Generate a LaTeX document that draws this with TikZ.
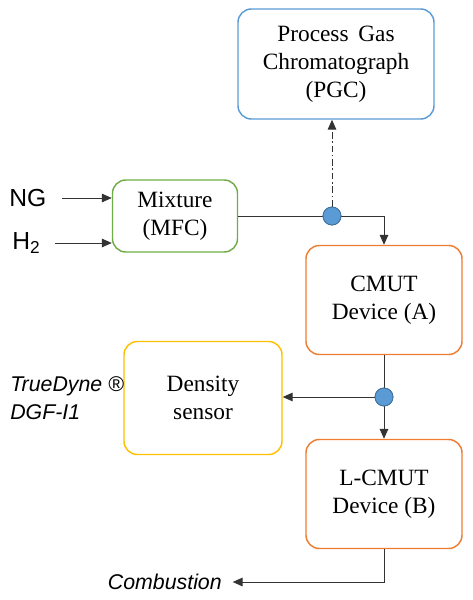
\documentclass[tikz,border=0pt]{standalone}
\usepackage{fontspec}
\setmainfont{Liberation Serif}
\setsansfont{Liberation Sans}
\usetikzlibrary{positioning, arrows.meta, calc}

\definecolor{pgcblue}{HTML}{5B9BD5}
\definecolor{mixgreen}{HTML}{70AD47}
\definecolor{cmutorange}{HTML}{ED7D31}
\definecolor{densyellow}{HTML}{FFC000}
\definecolor{dotborder}{HTML}{41719C}

\begin{document}
\begin{tikzpicture}[
    x=0.75pt, y=-0.75pt,
    % Styles
    unit/.style={ % process block
        rectangle,
        rounded corners=10pt,
        draw,
        line width=1.1pt,
        fill=white,
        align=center,
        font=\fontsize{17.5}{21}\selectfont
    },
    pgcbox/.style={unit, draw=pgcblue, minimum width=147pt, minimum height=82.5pt},
    mixbox/.style={unit, draw=mixgreen, minimum width=93.75pt, minimum height=54pt},
    cmutbox/.style={unit, draw=cmutorange, minimum width=117pt, minimum height=81.75pt},
    densbox/.style={unit, draw=densyellow, minimum width=118.5pt, minimum height=84.75pt},
    junction/.style={ % branching point
        circle,
        minimum size=13.5pt,
        inner sep=0pt,
        draw=dotborder,
        line width=0.6pt,
        fill=pgcblue
    },
    label/.style={ % free text
        font=\sffamily\fontsize{16}{19}\selectfont\itshape,
        inner sep=0pt
    },
    gas/.style={
        font=\sffamily\fontsize{18.5}{22}\selectfont,
        inner sep=0pt
    },
    arrow/.style={
        -{Triangle[length=7.5pt,width=6.5pt]},
        draw=black!80,
        line width=0.75pt
    }
]
    \useasboundingbox (0,0) rectangle (473,600);

    % Blocks
    \node[pgcbox] (pgc) at (336,64) {Process\, Gas\\Chromatograph\\(PGC)};
    \node[mixbox] (mix) at (175,216) {Mixture\\(MFC)};
    \node[cmutbox] (cmutA) at (384,300) {CMUT\\Device (A)};
    \node[densbox] (dens) at (203,398) {Density\\sensor};
    \node[cmutbox] (cmutB) at (384,494) {L-CMUT\\Device (B)};

    % Inputs
    \node[gas, anchor=west] (ng) at (9,198) {NG};
    \node[gas, anchor=west] (htwo) at (12,243) {H\textsubscript{2}};
    \coordinate (ngstart) at (62,198);
    \coordinate (htwostart) at (55,243);
    \draw[arrow] (ngstart) -- (ngstart -| mix.west);
    \draw[arrow] (htwostart) -- (htwostart -| mix.west);

    % Labels
    \node[label, anchor=west, align=left] (truedyne) at (10,398) {TrueDyne \textregistered\\[2pt]DGF-I1};
    \node[label, anchor=east] (comb) at (222,582) {Combustion};

    % Junctions
    \node[junction] (jA) at (332,216) {};
    \node[junction] (jB) at (384,397) {};

    % Connectors
    \draw[arrow] (mix.east) -| (cmutA.north);
    \draw[arrow, dash pattern=on 5pt off 2pt on 1.2pt off 2pt] (jA.north) -- (jA |- pgc.south);
    \draw[arrow] (cmutA.south) -- (cmutB.north);
    \draw[arrow] (jB) -- (jB -| dens.east);
    \draw[arrow] (cmutB.south) |- ([xshift=8pt]comb.east);

    % Junctions on top
    \node[junction] at (jA) {};
    \node[junction] at (jB) {};
\end{tikzpicture}
\end{document}
